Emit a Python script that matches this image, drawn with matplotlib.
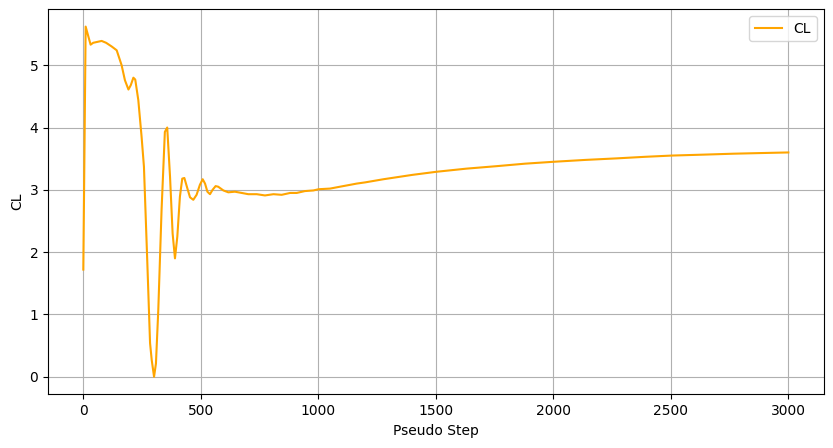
import matplotlib
matplotlib.use("Agg")
import matplotlib.pyplot as plt

pseudo_step = [0, 10, 31, 42, 78, 97, 121, 142, 163, 177, 192, 202, 213, 221, 234, 248, 258,
               272, 284, 291, 301, 309, 319, 333, 347, 357, 369, 380, 390, 400, 411, 421, 430,
               443, 454, 468, 482, 496, 508, 518, 528, 539, 550, 563, 574, 596, 617, 645, 674,
               702, 738, 773, 809, 844, 880, 908, 943, 979, 1002, 1050, 1092, 1135, 1163, 1200,
               1277, 1400, 1503, 1630, 1759, 1880, 2000, 2135, 2270, 2390, 2504, 2640, 2767,
               2880, 3000]
cl = [1.72, 5.62, 5.33, 5.36, 5.39, 5.36, 5.30, 5.24, 5.00, 4.76, 4.61, 4.68, 4.80, 4.77, 4.44,
      3.85, 3.37, 1.87, 0.54, 0.27, 0.00, 0.21, 1.07, 2.68, 3.93, 4.00, 3.21, 2.30, 1.90, 2.25,
      2.89, 3.18, 3.19, 3.02, 2.88, 2.84, 2.92, 3.08, 3.17, 3.10, 2.97, 2.93, 3.00, 3.06, 3.05,
      2.99, 2.96, 2.97, 2.95, 2.93, 2.93, 2.91, 2.93, 2.92, 2.95, 2.95, 2.98, 2.99, 3.01, 3.02,
      3.05, 3.08, 3.10, 3.12, 3.17, 3.24, 3.29, 3.34, 3.38, 3.42, 3.45, 3.48, 3.505, 3.53,
      3.55, 3.565, 3.58, 3.59, 3.60]

fig = plt.figure(figsize=(8.33, 4.48), dpi=100)
ax = fig.add_axes([0.0577, 0.120, 0.9310, 0.8597])
ax.plot(pseudo_step, cl, color="orange", label="CL")
ax.set_xlabel("Pseudo Step")
ax.set_ylabel("CL")
ax.grid(True)
ax.legend(loc="upper right")
fig.savefig("out.png", dpi=100)
